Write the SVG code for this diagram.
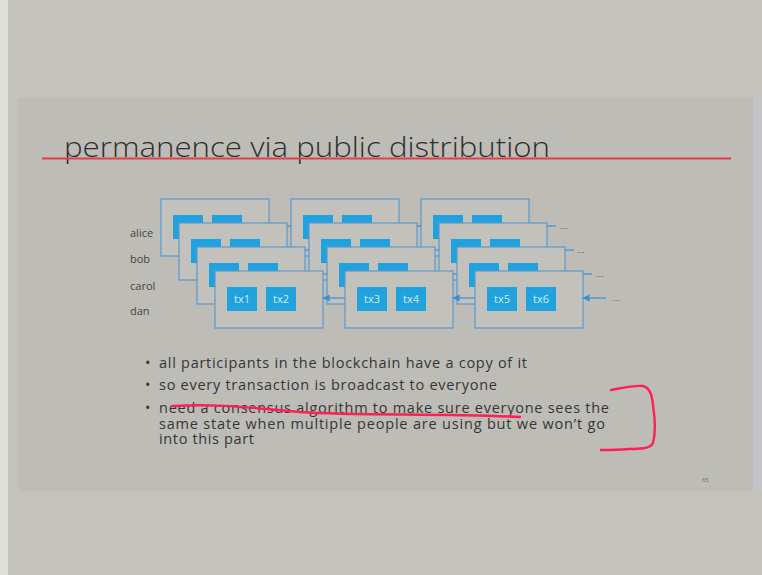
<svg xmlns="http://www.w3.org/2000/svg" width="762" height="575" viewBox="0 0 762 575">
  <defs>
    <marker id="ah" viewBox="0 0 6 6" refX="5.5" refY="3" markerWidth="6" markerHeight="6" orient="auto">
      <path d="M0,0 L6,3 L0,6 z" fill="#3f8fcf"/>
    </marker>
    <style>
      .layer { fill: #c2c1bb; stroke: #5a9bd0; stroke-width: 1.2; }
      .tx { fill: #1fa2de; }
      .txt { font-family: "Open Sans", "Liberation Sans", sans-serif; font-size: 11px; fill: #d6ecf7; text-anchor: middle; }
      .name { font-family: "Open Sans", "Liberation Sans", sans-serif; font-size: 11px; fill: #444; }
      .dots { font-family: "Liberation Sans", sans-serif; font-size: 9px; fill: #555; }
      .conn { stroke: #3f8fcf; stroke-width: 1.2; fill: none; }
      .bullet { font-family: "Open Sans", "Liberation Sans", sans-serif; font-size: 14.5px; fill: #363636; }
      .ink { stroke: #ff1f55; stroke-width: 2.4; fill: none; stroke-linecap: round; stroke-linejoin: round; }
    </style>
  </defs>

  <!-- background -->
  <rect x="0" y="0" width="762" height="575" fill="#c3c3bb"/>
  <rect x="0" y="0" width="8" height="575" fill="#dedfd9"/>
  <rect x="18" y="98" width="735" height="393" fill="#bdbcb6"/>
  <rect x="753" y="98" width="9" height="393" fill="#c4c3c8"/>

  <!-- title -->
  <text x="64" y="157" font-family="'Open Sans', 'Liberation Sans', sans-serif" font-weight="300" font-size="27" fill="#2e2e2e" textLength="486" lengthAdjust="spacingAndGlyphs">permanence via public distribution</text>
  <line x1="42" y1="158.5" x2="731" y2="158.5" stroke="#ec3a4c" stroke-width="2"/>

  <!-- participant labels -->
  <text class="name" x="130" y="237">alice</text>
  <text class="name" x="130" y="263">bob</text>
  <text class="name" x="130" y="290">carol</text>
  <text class="name" x="130" y="315">dan</text>

  <!-- alice row -->
  <g id="alice-b1"><rect class="layer" x="161" y="199" width="108" height="57"/><rect class="tx" x="173" y="215" width="30" height="24"/><rect class="tx" x="212" y="215" width="30" height="24"/></g>
  <g id="alice-b2"><rect class="layer" x="291" y="199" width="108" height="57"/><rect class="tx" x="303" y="215" width="30" height="24"/><rect class="tx" x="342" y="215" width="30" height="24"/></g>
  <g id="alice-b3"><rect class="layer" x="421" y="199" width="108" height="57"/><rect class="tx" x="433" y="215" width="30" height="24"/><rect class="tx" x="472" y="215" width="30" height="24"/></g>

  <!-- bob row -->
  <g id="bob-b1"><rect class="layer" x="179" y="223" width="108" height="57"/><rect class="tx" x="191" y="239" width="30" height="24"/><rect class="tx" x="230" y="239" width="30" height="24"/></g>
  <g id="bob-b2"><rect class="layer" x="309" y="223" width="108" height="57"/><rect class="tx" x="321" y="239" width="30" height="24"/><rect class="tx" x="360" y="239" width="30" height="24"/></g>
  <g id="bob-b3"><rect class="layer" x="439" y="223" width="108" height="57"/><rect class="tx" x="451" y="239" width="30" height="24"/><rect class="tx" x="490" y="239" width="30" height="24"/></g>

  <!-- carol row -->
  <g id="carol-b1"><rect class="layer" x="197" y="247" width="108" height="57"/><rect class="tx" x="209" y="263" width="30" height="24"/><rect class="tx" x="248" y="263" width="30" height="24"/></g>
  <g id="carol-b2"><rect class="layer" x="327" y="247" width="108" height="57"/><rect class="tx" x="339" y="263" width="30" height="24"/><rect class="tx" x="378" y="263" width="30" height="24"/></g>
  <g id="carol-b3"><rect class="layer" x="457" y="247" width="108" height="57"/><rect class="tx" x="469" y="263" width="30" height="24"/><rect class="tx" x="508" y="263" width="30" height="24"/></g>

  <!-- dan row -->
  <g id="dan-b1"><rect class="layer" x="215" y="271" width="108" height="57"/><rect class="tx" x="227" y="287" width="30" height="24"/><rect class="tx" x="266" y="287" width="30" height="24"/><text class="txt" x="242" y="303">tx1</text><text class="txt" x="281" y="303">tx2</text></g>
  <g id="dan-b2"><rect class="layer" x="345" y="271" width="108" height="57"/><rect class="tx" x="357" y="287" width="30" height="24"/><rect class="tx" x="396" y="287" width="30" height="24"/><text class="txt" x="372" y="303">tx3</text><text class="txt" x="411" y="303">tx4</text></g>
  <g id="dan-b3"><rect class="layer" x="475" y="271" width="108" height="57"/><rect class="tx" x="487" y="287" width="30" height="24"/><rect class="tx" x="526" y="287" width="30" height="24"/><text class="txt" x="502" y="303">tx5</text><text class="txt" x="541" y="303">tx6</text></g>

  <!-- connectors -->
  <g id="connectors">
    <line class="conn" x1="291" y1="226" x2="287" y2="226"/>
    <line class="conn" x1="421" y1="226" x2="417" y2="226"/>
    <line class="conn" x1="556" y1="226" x2="547" y2="226"/>
    <line class="conn" x1="309" y1="250" x2="305" y2="250"/>
    <line class="conn" x1="439" y1="250" x2="435" y2="250"/>
    <line class="conn" x1="574" y1="250" x2="565" y2="250"/>
    <line class="conn" x1="327" y1="274" x2="323" y2="274"/>
    <line class="conn" x1="457" y1="274" x2="453" y2="274"/>
    <line class="conn" x1="592" y1="274" x2="583" y2="274"/>
    <line class="conn" x1="345" y1="298" x2="323" y2="298" marker-end="url(#ah)"/>
    <line class="conn" x1="475" y1="298" x2="453" y2="298" marker-end="url(#ah)"/>
    <line class="conn" x1="606" y1="298" x2="583" y2="298" marker-end="url(#ah)"/>
  </g>
  <text class="dots" x="560" y="229">...</text>
  <text class="dots" x="577" y="253">...</text>
  <text class="dots" x="596" y="277">...</text>
  <text class="dots" x="613" y="301">...</text>

  <!-- bullets -->
  <g class="bullet">
    <text x="145" y="368">•</text>
    <text x="159" y="368" textLength="368">all participants in the blockchain have a copy of it</text>
    <text x="145" y="390">•</text>
    <text x="159" y="390" textLength="338">so every transaction is broadcast to everyone</text>
    <text x="145" y="413">•</text>
    <text x="159" y="413" textLength="450">need a consensus algorithm to make sure everyone sees the</text>
    <text x="159" y="428.5" textLength="446">same state when multiple people are using but we won’t go</text>
    <text x="159" y="444" textLength="95">into this part</text>
  </g>

  <!-- handwritten annotations -->
  <path class="ink" d="M173,406 C220,403 260,409 300,412 C360,416 440,413 520,417"/>
  <path class="ink" d="M611,390 C622,388 634,385 643,386 C650,388 652,395 653,405 C655,418 656,432 653,443 C650,449 640,449 628,449 C618,450 608,450 601,450"/>

  <text x="702" y="482" font-family="'Liberation Sans', sans-serif" font-size="6" fill="#777">65</text>
</svg>
